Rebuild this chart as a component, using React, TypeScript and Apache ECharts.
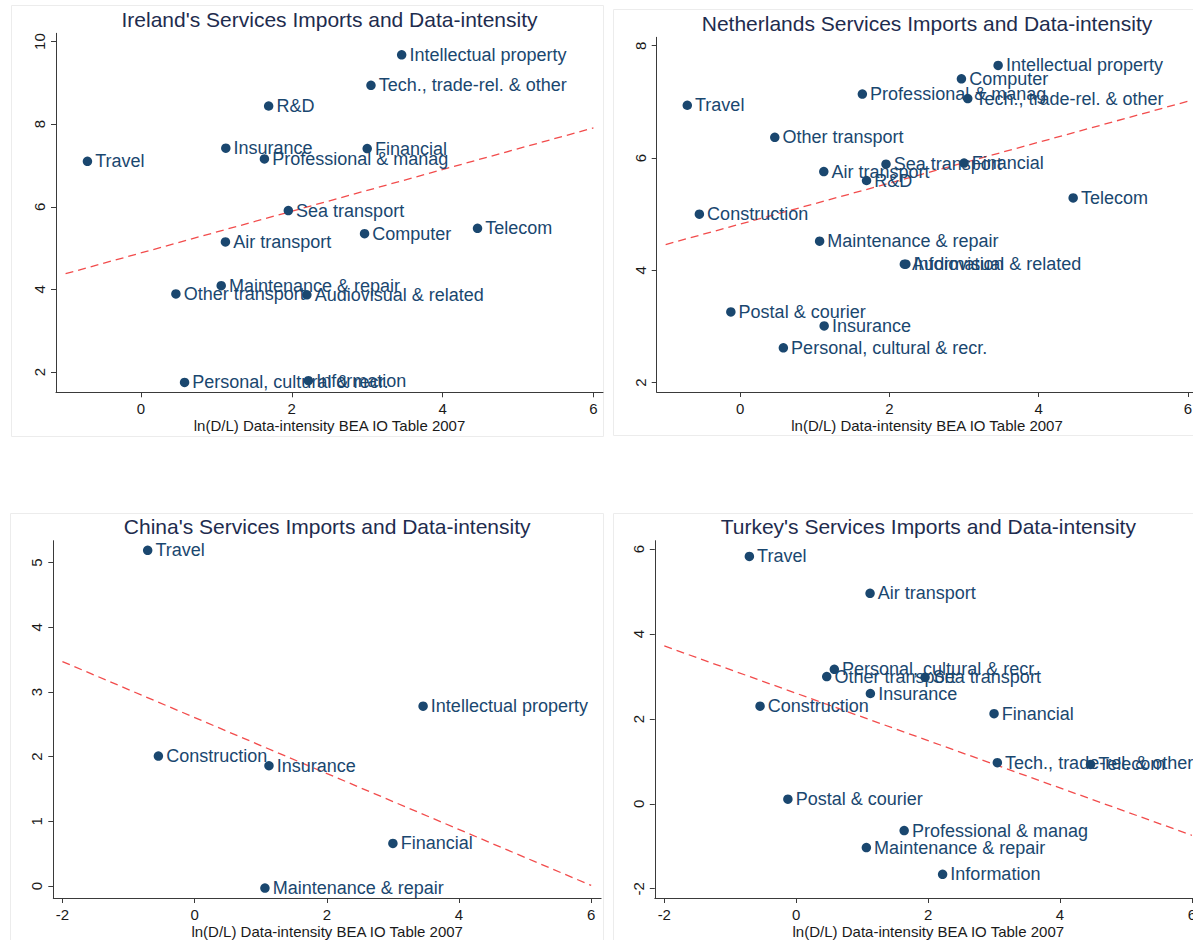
import React, { useEffect, useRef } from "react";
import * as echarts from "echarts";

// Sectors and their data-intensity ln(D/L), BEA IO Table 2007 (shared x values)
const sectors = [
  "Travel",
  "Construction",
  "Postal & courier",
  "Other transport",
  "Personal, cultural & recr.",
  "Maintenance & repair",
  "Air transport",
  "Insurance",
  "Professional & manag",
  "R&D",
  "Sea transport",
  "Information",
  "Audiovisual & related",
  "Computer",
  "Financial",
  "Tech., trade-rel. & other",
  "Intellectual property",
  "Telecom",
];
const dataIntensity = [
  -0.71, -0.548, -0.126, 0.463, 0.578, 1.064, 1.12, 1.125, 1.637, 1.693, 1.954,
  2.22, 2.2, 2.965, 3.0, 3.05, 3.457, 4.463,
];

// Services imports (log) per country, same order as sectors (null = not shown)
const irelandImports = [
  7.1, null, null, 3.89, 1.75, 4.09, 5.15, 7.42, 7.16, 8.44, 5.91, 1.79, 3.87,
  5.35, 7.41, 8.94, 9.68, 5.48,
];
const netherlandsImports = [
  6.94, 5.0, 3.26, 6.37, 2.62, 4.52, 5.76, 3.01, 7.14, 5.6, 5.89, 4.11, 4.11,
  7.41, 5.91, 7.06, 7.65, 5.29,
];
const chinaImports = [
  5.19, 2.01, null, null, null, -0.03, null, 1.86, null, null, null, null, null,
  null, 0.66, null, 2.78, null,
];
const turkeyImports = [
  5.83, 2.3, 0.11, 3.0, 3.17, -1.03, 4.96, 2.6, -0.63, null, 2.98, -1.66, null,
  null, 2.125, 0.97, null, 0.93,
];

// Linear fit endpoints
const irelandFitX = [-1, 6];
const irelandFitY = [4.38, 7.91];
const netherlandsFitX = [-1, 6];
const netherlandsFitY = [4.46, 7.01];
const chinaFitX = [-2, 6];
const chinaFitY = [3.47, 0.01];
const turkeyFitX = [-2, 6];
const turkeyFitY = [3.72, -0.74];

// Tick labels
const irelandXTicks = [0, 2, 4, 6];
const irelandYTicks = [2, 4, 6, 8, 10];
const netherlandsXTicks = [0, 2, 4, 6];
const netherlandsYTicks = [2, 4, 6, 8];
const chinaXTicks = [-2, 0, 2, 4, 6];
const chinaYTicks = [0, 1, 2, 3, 4, 5];
const turkeyXTicks = [-2, 0, 2, 4, 6];
const turkeyYTicks = [-2, 0, 2, 4, 6];

const titles = [
  "Ireland's Services Imports and Data-intensity",
  "Netherlands Services Imports and Data-intensity",
  "China's Services Imports and Data-intensity",
  "Turkey's Services Imports and Data-intensity",
];
const xTitle = "ln(D/L) Data-intensity BEA IO Table 2007";

const FONT = "'Liberation Sans', Arial, Helvetica, sans-serif";
const NAVY = "#1a476f";
const TITLE_COLOR = "#1e2c4e";
const AXIS = "#3a3a3a";
const TEXT = "#1a1a1a";
const FIT = "#f24c4c";

const panels = [
  {
    imports: irelandImports,
    fitX: irelandFitX,
    fitY: irelandFitY,
    xTicks: irelandXTicks,
    yTicks: irelandYTicks,
    grid: { left: 56, top: 33.3, width: 547, height: 359 },
    xMin: -1.127, xMax: 6.127, yMin: 1.51, yMax: 10.2,
    box: { x: 11.5, y: 5.5, width: 592, height: 431 },
  },
  {
    imports: netherlandsImports,
    fitX: netherlandsFitX,
    fitY: netherlandsFitY,
    xTicks: netherlandsXTicks,
    yTicks: netherlandsYTicks,
    grid: { left: 656.7, top: 37.3, width: 540.6, height: 354.7 },
    xMin: -1.12, xMax: 6.127, yMin: 1.834, yMax: 8.15,
    box: { x: 613.5, y: 9.5, width: 600, height: 426 },
  },
  {
    imports: chinaImports,
    fitX: chinaFitX,
    fitY: chinaFitY,
    xTicks: chinaXTicks,
    yTicks: chinaYTicks,
    grid: { left: 53.3, top: 540.7, width: 547.8, height: 359.6 },
    xMin: -2.138, xMax: 6.15, yMin: -0.184, yMax: 5.338,
    box: { x: 10.5, y: 513.5, width: 593, height: 440 },
  },
  {
    imports: turkeyImports,
    fitX: turkeyFitX,
    fitY: turkeyFitY,
    xTicks: turkeyXTicks,
    yTicks: turkeyYTicks,
    grid: { left: 654.8, top: 540.7, width: 547, height: 359.3 },
    xMin: -2.144, xMax: 6.15, yMin: -2.218, yMax: 6.2,
    box: { x: 613.5, y: 513.5, width: 600, height: 440 },
  },
];

function buildOption() {
  const grid: any[] = [];
  const xAxis: any[] = [];
  const yAxis: any[] = [];
  const series: any[] = [];
  const graphic: any[] = [];

  panels.forEach((p, i) => {
    grid.push({ ...p.grid, containLabel: false });
    xAxis.push({
      type: "value",
      gridIndex: i,
      min: p.xMin,
      max: p.xMax,
      axisLine: { show: true, onZero: false, lineStyle: { color: AXIS, width: 1 } },
      axisTick: { show: true, length: 5, customValues: p.xTicks, lineStyle: { color: AXIS } },
      axisLabel: {
        show: true,
        customValues: p.xTicks,
        margin: 9,
        fontSize: 15,
        color: TEXT,
        fontFamily: FONT,
      },
      splitLine: { show: false },
      name: xTitle,
      nameLocation: "middle",
      nameGap: 26,
      nameTextStyle: { fontSize: 15, color: TEXT, fontFamily: FONT },
    });
    yAxis.push({
      type: "value",
      gridIndex: i,
      min: p.yMin,
      max: p.yMax,
      axisLine: { show: true, onZero: false, lineStyle: { color: AXIS, width: 1 } },
      axisTick: { show: true, length: 5, customValues: p.yTicks, lineStyle: { color: AXIS } },
      axisLabel: {
        show: true,
        customValues: p.yTicks,
        rotate: 90,
        margin: 9,
        fontSize: 15,
        color: TEXT,
        fontFamily: FONT,
      },
      splitLine: { show: false },
    });

    series.push({
      type: "line",
      xAxisIndex: i,
      yAxisIndex: i,
      data: p.fitX.map((x, k) => [x, p.fitY[k]]),
      showSymbol: false,
      symbol: "none",
      silent: true,
      z: 1,
      lineStyle: { color: FIT, width: 1.3, type: [8, 5] },
    });

    const pts: any[] = [];
    sectors.forEach((name, k) => {
      const v = p.imports[k];
      if (v !== null && v !== undefined) {
        pts.push({ name, value: [dataIntensity[k], v] });
      }
    });
    series.push({
      type: "scatter",
      xAxisIndex: i,
      yAxisIndex: i,
      data: pts,
      symbol: "circle",
      symbolSize: 9.5,
      z: 3,
      itemStyle: { color: NAVY, opacity: 1 },
      label: {
        show: true,
        position: "right",
        distance: 3,
        formatter: "{b}",
        color: NAVY,
        fontSize: 18,
        fontFamily: FONT,
      },
      labelLayout: { hideOverlap: false },
    });

    graphic.push({
      type: "rect",
      silent: true,
      z: -10,
      shape: { ...p.box },
      style: { fill: "none", stroke: "#ececec", lineWidth: 1 },
    });
    graphic.push({
      type: "text",
      silent: true,
      x: p.grid.left + p.grid.width / 2,
      y: p.grid.top - 14,
      style: {
        text: titles[i],
        fill: TITLE_COLOR,
        font: `21px ${FONT}`,
        align: "center",
        verticalAlign: "middle",
        textAlign: "center",
        textVerticalAlign: "middle",
      },
    });
  });

  return {
    animation: false,
    backgroundColor: "#ffffff",
    grid,
    xAxis,
    yAxis,
    series,
    graphic,
  };
}

export default function App() {
  const ref = useRef<HTMLDivElement | null>(null);
  useEffect(() => {
    if (!ref.current) return;
    const chart = echarts.init(ref.current, null, { renderer: "svg" });
    chart.setOption(buildOption() as any);
    return () => chart.dispose();
  }, []);
  return (
    <div
      style={{
        position: "absolute",
        left: 0,
        top: 0,
        width: 1193,
        height: 940,
        overflow: "hidden",
        background: "#fff",
      }}
    >
      <div ref={ref} style={{ width: 1240, height: 940 }} />
    </div>
  );
}
